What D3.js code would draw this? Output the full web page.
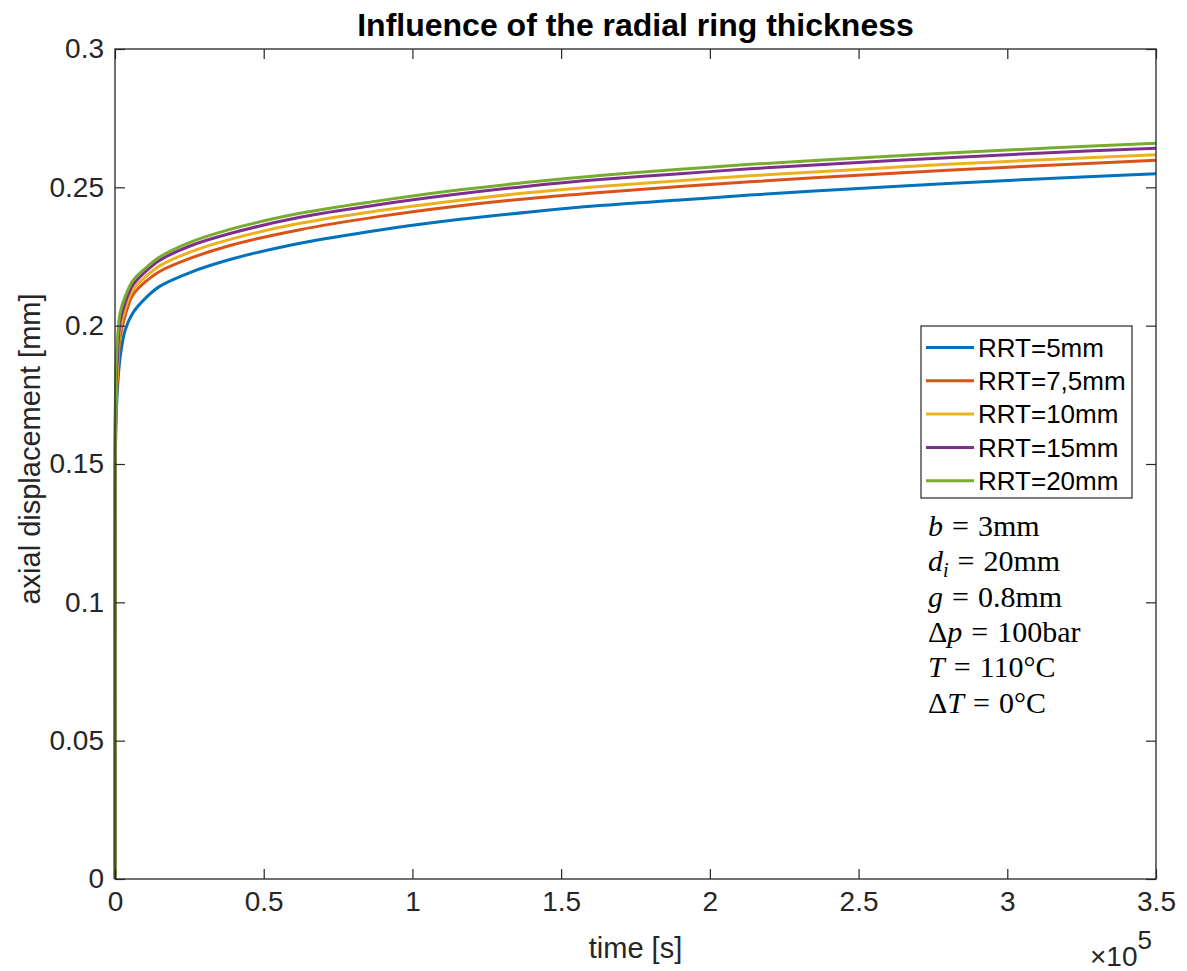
<!DOCTYPE html>
<html><head><meta charset="utf-8">
<script src="https://cdn.jsdelivr.net/npm/d3@7"></script>
<style>body{margin:0;background:#fff} svg{display:block}</style>
</head><body>
<svg id="chart" width="1187" height="971"></svg>
<script>
// ---- data ----
const time = [0, 60, 300, 800, 1700, 3400, 6000, 10700, 15000, 25215, 38663, 62197, 89093, 112627, 139523, 163057, 189953, 213487, 247000, 280000, 314000, 350000];
const rrt5   = [0, 0.140, 0.163, 0.1767, 0.1883, 0.1983, 0.2046, 0.2104, 0.2142, 0.2192, 0.2239, 0.2298, 0.2346, 0.2380, 0.2411, 0.2434, 0.2454, 0.2472, 0.2494, 0.2514, 0.2532, 0.2549];
const rrt7_5 = [0, 0.150, 0.168, 0.1804, 0.1955, 0.2036, 0.2111, 0.2163, 0.2196, 0.2243, 0.2290, 0.2347, 0.2395, 0.2429, 0.2460, 0.2481, 0.2503, 0.2520, 0.2542, 0.2562, 0.2580, 0.2598];
const rrt10  = [0, 0.155, 0.172, 0.1840, 0.1984, 0.2060, 0.2129, 0.2181, 0.2216, 0.2266, 0.2312, 0.2370, 0.2416, 0.2449, 0.2481, 0.2503, 0.2524, 0.2542, 0.2563, 0.2583, 0.2601, 0.2618];
const rrt15  = [0, 0.160, 0.177, 0.1883, 0.2013, 0.2082, 0.2147, 0.2200, 0.2236, 0.2288, 0.2333, 0.2392, 0.2438, 0.2472, 0.2505, 0.2528, 0.2549, 0.2567, 0.2588, 0.2607, 0.2625, 0.2641];
const rrt20  = [0, 0.165, 0.183, 0.1948, 0.2045, 0.2105, 0.2163, 0.2212, 0.2248, 0.2301, 0.2348, 0.2406, 0.2452, 0.2487, 0.2519, 0.2543, 0.2565, 0.2583, 0.2604, 0.2624, 0.2642, 0.2659];

const seriesNames  = ["RRT=5mm", "RRT=7,5mm", "RRT=10mm", "RRT=15mm", "RRT=20mm"];
const seriesValues = [rrt5, rrt7_5, rrt10, rrt15, rrt20];
const seriesColors = ["#0072BD", "#D95319", "#EDB120", "#7E2F8E", "#77AC30"];

const xTicks = [0, 50000, 100000, 150000, 200000, 250000, 300000, 350000];
const xTickLabels = ["0", "0.5", "1", "1.5", "2", "2.5", "3", "3.5"];
const yTicks = [0, 0.05, 0.1, 0.15, 0.2, 0.25, 0.3];
const yTickLabels = ["0", "0.05", "0.1", "0.15", "0.2", "0.25", "0.3"];

const titleText = "Influence of the radial ring thickness";
const xLabelText = "time [s]";
const yLabelText = "axial displacement [mm]";

// annotation lines: [variable parts], value ; style: "i" italic, "r" roman, "sub" italic subscript
const annotationVars = [
  [["b", "i"]],
  [["d", "i"], ["i", "sub"]],
  [["g", "i"]],
  [["Δ", "r"], ["p", "i"]],
  [["T", "i"]],
  [["Δ", "r"], ["T", "i"]]
];
const annotationValues = ["3mm", "20mm", "0.8mm", "100bar", "110°C", "0°C"];

// ---- layout ----
const svg = d3.select("#chart");
const L = 115, R = 1156, T = 49, B = 879;
const axisColor = "#262626";
const sans = "'Liberation Sans', Arial, Helvetica, sans-serif";

const x = d3.scaleLinear().domain([0, 350000]).range([L, R]);
const y = d3.scaleLinear().domain([0, 0.3]).range([B, T]);

svg.append("rect").attr("x", 0).attr("y", 0).attr("width", 1187).attr("height", 971).attr("fill", "#fff");

// lines
const lineGen = d3.line().x((d, i) => x(time[i])).y(d => y(d)).curve(d3.curveCatmullRom.alpha(0.5));
const gLines = svg.append("g");
seriesValues.forEach((vals, k) => {
  gLines.append("path").datum(vals)
    .attr("d", lineGen)
    .attr("fill", "none")
    .attr("stroke", seriesColors[k])
    .attr("stroke-width", 3)
    .attr("stroke-linejoin", "round");
});

// axes
function styleAxis(g, showText) {
  g.selectAll(".domain").remove();
  g.selectAll(".tick line").attr("stroke", axisColor).attr("stroke-width", 1.2);
  g.selectAll(".tick text").attr("fill", axisColor).style("font-family", sans).style("font-size", "28px");
  if (!showText) g.selectAll(".tick text").remove();
}
const gx = svg.append("g").attr("transform", `translate(0,${B})`)
  .call(d3.axisBottom(x).tickValues(xTicks).tickFormat((d, i) => xTickLabels[i]).tickSizeInner(-10).tickSizeOuter(0).tickPadding(12));
styleAxis(gx, true);
gx.selectAll(".tick text").attr("dy", "0.71em");
const gxt = svg.append("g").attr("transform", `translate(0,${T})`)
  .call(d3.axisTop(x).tickValues(xTicks).tickSizeInner(-10).tickSizeOuter(0));
styleAxis(gxt, false);
const gy = svg.append("g").attr("transform", `translate(${L},0)`)
  .call(d3.axisLeft(y).tickValues(yTicks).tickFormat((d, i) => yTickLabels[i]).tickSizeInner(-10).tickSizeOuter(0).tickPadding(11));
styleAxis(gy, true);
const gyr = svg.append("g").attr("transform", `translate(${R},0)`)
  .call(d3.axisRight(y).tickValues(yTicks).tickSizeInner(-10).tickSizeOuter(0));
styleAxis(gyr, false);

// box
svg.append("rect").attr("x", L).attr("y", T).attr("width", R - L).attr("height", B - T)
  .attr("fill", "none").attr("stroke", axisColor).attr("stroke-width", 1.3);

// exponent
const expG = svg.append("text").attr("x", 1090).attr("y", 966).attr("fill", axisColor)
  .style("font-family", sans).style("font-size", "28px");
expG.append("tspan").text("×10");
expG.append("tspan").attr("dy", -17).style("font-size", "26px").text("5");

// title & labels
svg.append("text").attr("x", (L + R) / 2).attr("y", 36).attr("text-anchor", "middle")
  .style("font-family", sans).style("font-size", "32px").style("font-weight", "bold").attr("fill", "#000")
  .text(titleText);
svg.append("text").attr("x", (L + R) / 2).attr("y", 958).attr("text-anchor", "middle")
  .style("font-family", sans).style("font-size", "29px").attr("fill", axisColor).text(xLabelText);
svg.append("text").attr("transform", `translate(40,449) rotate(-90)`).attr("text-anchor", "middle")
  .style("font-family", sans).style("font-size", "29px").attr("fill", axisColor).text(yLabelText);

// legend
const lg = svg.append("g");
lg.append("rect").attr("x", 921).attr("y", 326).attr("width", 211).attr("height", 172)
  .attr("fill", "#fff").attr("stroke", axisColor).attr("stroke-width", 1.2);
seriesNames.forEach((name, k) => {
  const yy = 347.5 + k * 33.3;
  lg.append("line").attr("x1", 926).attr("x2", 974).attr("y1", yy).attr("y2", yy)
    .attr("stroke", seriesColors[k]).attr("stroke-width", 3);
  lg.append("text").attr("x", 978).attr("y", yy).attr("dy", "0.36em")
    .style("font-family", sans).style("font-size", "26px").attr("fill", "#000").text(name);
});

// annotation
const serif = "'Liberation Serif', 'DejaVu Serif', serif";
annotationVars.forEach((segs, k) => {
  const t = svg.append("text").attr("x", 928).attr("y", 536 + k * 35.3)
    .style("font-family", serif).style("font-size", "30px").attr("fill", "#000");
  let hasSub = false;
  segs.forEach(([s, st]) => {
    const ts = t.append("tspan").text(s);
    if (st === "i") ts.style("font-style", "italic");
    if (st === "sub") { ts.style("font-style", "italic").style("font-size", "20px").attr("dy", 6); hasSub = true; }
  });
  t.append("tspan").attr("dx", 9).attr("dy", hasSub ? -6 : 0).text("=");
  t.append("tspan").attr("dx", 9).text(annotationValues[k]);
});
</script>
</body></html>
